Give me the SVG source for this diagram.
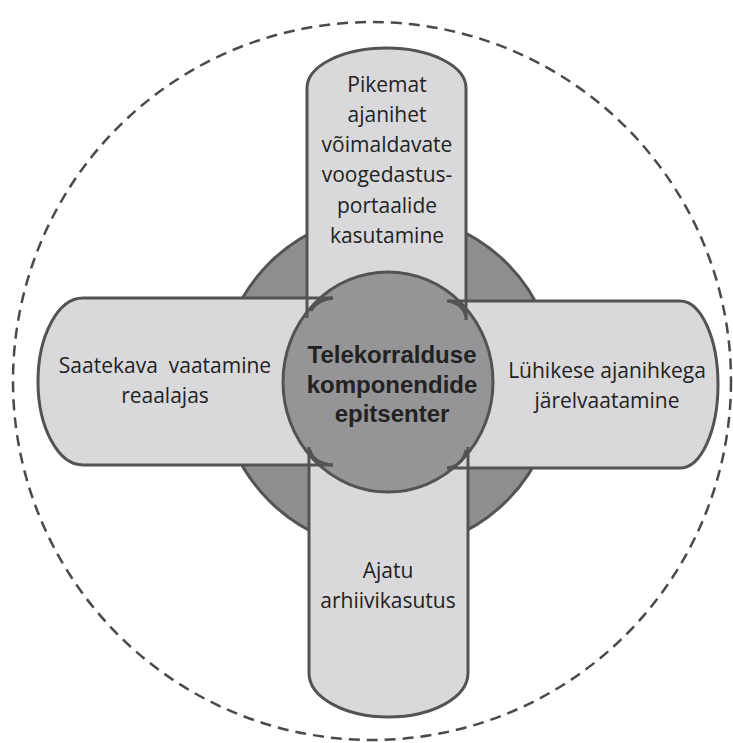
<svg xmlns="http://www.w3.org/2000/svg" width="733" height="743" viewBox="0 0 733 743">
<style>
.arm{fill:#d9d9db;stroke:none}
.edge{fill:none;stroke:#535353;stroke-width:3;stroke-linejoin:round}
.t{font-family:"Open Sans","Noto Sans",sans-serif;font-size:21px;fill:#222;text-anchor:middle}
.c{font-family:"Liberation Sans",Arial,sans-serif;font-size:24px;font-weight:bold;fill:#222;text-anchor:middle}
</style>
<rect width="733" height="743" fill="#ffffff"/>
<g id="outer-ring">
<circle cx="372" cy="381" r="359" fill="none" stroke="#4a4a4a" stroke-width="2.5" stroke-dasharray="11 7"/>
</g>
<g id="back-disc">
<circle cx="388" cy="382" r="168" fill="#8e8e8e" stroke="#535353" stroke-width="3"/>
</g>
<g id="arm-fills">
<path class="arm" d="M307,382 V88 A79.5,40 0 0 1 466,88 V382 Z"/>
<path class="arm" d="M309,382 V673 A79.5,44 0 0 0 468,673 V382 Z"/>
<path class="arm" d="M388,298 H83 A45,83.5 0 0 0 83,465 H388 Z"/>
<path class="arm" d="M388,301 H680 A38,83.5 0 0 1 680,468 H388 Z"/>
</g>
<g id="center">
<ellipse cx="388" cy="382" rx="105" ry="110" fill="#959597" stroke="#535353" stroke-width="3"/>
</g>
<g id="connectors">
<path class="edge" d="M307,318 V88 A79.5,40 0 0 1 466,88 V320"/>
<path class="edge" d="M309,447 V673 A79.5,44 0 0 0 468,673 V447"/>
<path class="edge" d="M333,298 H83 A45,83.5 0 0 0 83,465 H333"/>
<path class="edge" d="M447,301 H680 A38,83.5 0 0 1 680,468 H447"/>
<path class="edge" stroke-width="2" d="M311,311 Q316,300 333,298"/>
<path class="edge" stroke-width="2" d="M449,301 Q463,304 466,316"/>
<path class="edge" stroke-width="2" d="M310,450 Q313,463 333,465"/>
<path class="edge" stroke-width="2" d="M466,450 Q463,465 448,468"/>
</g>
<g id="node-top">
<text class="t" x="387" y="92">Pikemat</text>
<text class="t" x="387" y="122">ajanihet</text>
<text class="t" x="387" y="152">võimaldavate</text>
<text class="t" x="387" y="182">voogedastus-</text>
<text class="t" x="387" y="213">portaalide</text>
<text class="t" x="387" y="243">kasutamine</text>
</g>
<g id="node-left">
<text class="t" x="165" y="373" xml:space="preserve">Saatekava  vaatamine</text>
<text class="t" x="165" y="403">reaalajas</text>
</g>
<g id="node-right">
<text class="t" x="607" y="378">Lühikese ajanihkega</text>
<text class="t" x="607" y="408">järelvaatamine</text>
</g>
<g id="node-bottom">
<text class="t" x="388" y="578">Ajatu</text>
<text class="t" x="388" y="608">arhiivikasutus</text>
</g>
<g id="node-center">
<text class="c" x="392" y="363">Telekorralduse</text>
<text class="c" x="392" y="393">komponendide</text>
<text class="c" x="392" y="422">epitsenter</text>
</g>
</svg>
